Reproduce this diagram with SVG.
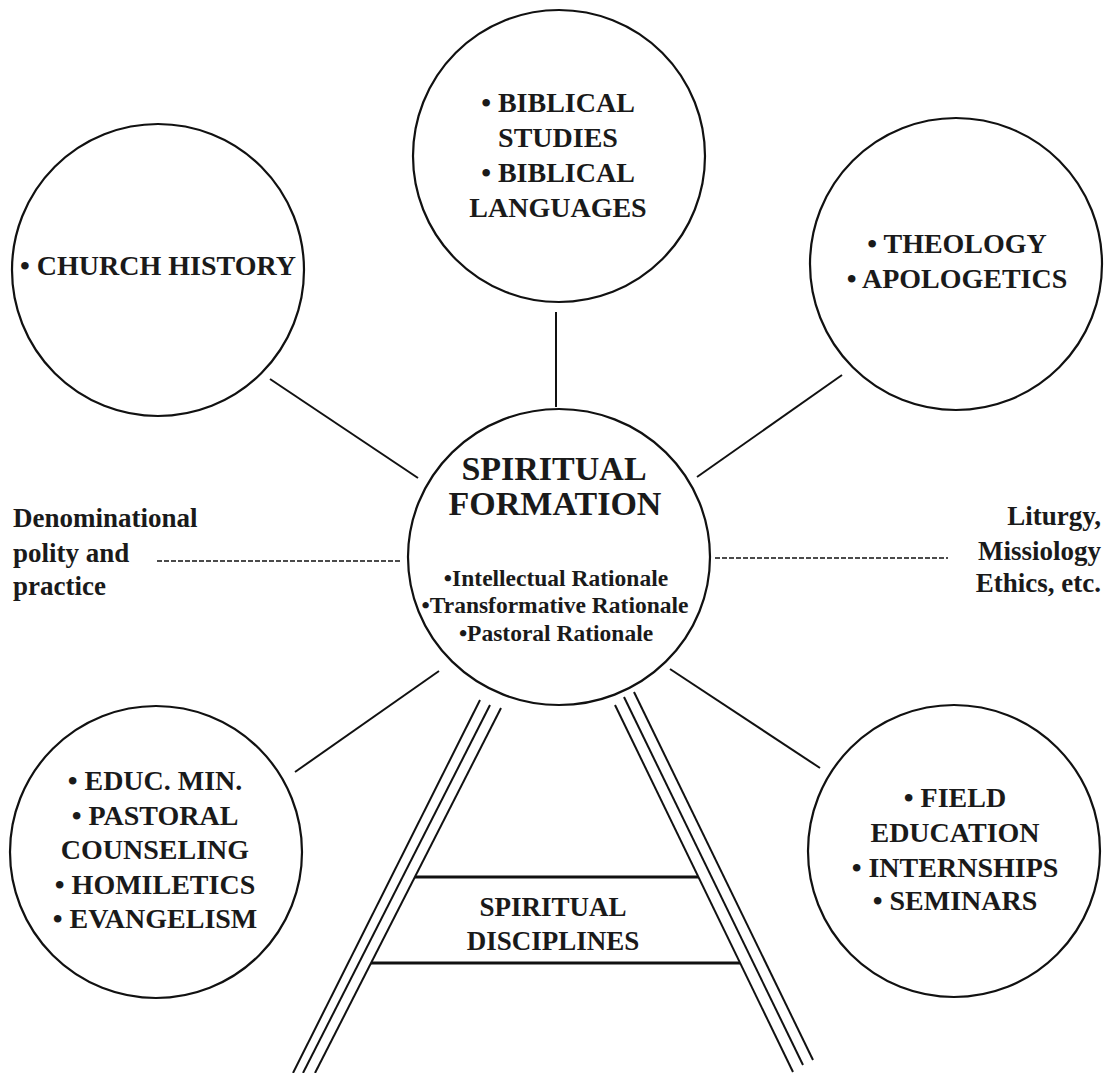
<svg xmlns="http://www.w3.org/2000/svg" width="1107" height="1073" viewBox="0 0 1107 1073">
<style>
.c{fill:none;stroke:#111;stroke-width:2.2}
.l{stroke:#111;stroke-width:2;fill:none}
.d{stroke:#111;stroke-width:1.6;stroke-dasharray:5 2;fill:none}
.b{stroke:#111;stroke-width:3;fill:none}
text{font-family:"Liberation Serif","Times New Roman",Times,serif;font-weight:bold;fill:#1a1a1a}
.t{font-size:28px;text-anchor:middle}
.s{font-size:27px}
.h{font-size:34px;text-anchor:middle}
.r{font-size:23.5px;text-anchor:middle}
</style>
<rect width="1107" height="1073" fill="#fff"/>
<g id="connectors">
<line class="l" x1="556" y1="312" x2="556" y2="407"/>
<line class="l" x1="270" y1="379" x2="418" y2="478"/>
<line class="l" x1="842" y1="375" x2="697" y2="477"/>
<line class="l" x1="295" y1="772" x2="439" y2="671"/>
<line class="l" x1="670" y1="669" x2="820" y2="768"/>
<line class="d" x1="157" y1="561" x2="400" y2="561"/>
<line class="d" x1="715" y1="558" x2="948" y2="558"/>
</g>
<g id="biblical">
<circle class="c" cx="559" cy="156" r="146"/>
<text class="t" x="558" y="112">• BIBLICAL</text>
<text class="t" x="558" y="147">STUDIES</text>
<text class="t" x="558" y="182">• BIBLICAL</text>
<text class="t" x="558" y="217">LANGUAGES</text>
</g>
<g id="church-history">
<circle class="c" cx="158" cy="270" r="146"/>
<text class="t" x="158" y="275">• CHURCH HISTORY</text>
</g>
<g id="theology">
<circle class="c" cx="956" cy="264" r="146"/>
<text class="t" x="957" y="253">• THEOLOGY</text>
<text class="t" x="957" y="288">• APOLOGETICS</text>
</g>
<g id="spiritual-formation">
<ellipse class="c" cx="559" cy="557" rx="151" ry="148"/>
<text class="h" x="554" y="480">SPIRITUAL</text>
<text class="h" x="555" y="515">FORMATION</text>
<text class="r" x="556" y="586">•Intellectual Rationale</text>
<text class="r" x="555" y="613">•Transformative Rationale</text>
<text class="r" x="556" y="641">•Pastoral Rationale</text>
</g>
<g id="practical">
<circle class="c" cx="156" cy="852" r="146"/>
<text class="t" x="155" y="790">• EDUC. MIN.</text>
<text class="t" x="155" y="825">• PASTORAL</text>
<text class="t" x="155" y="859">COUNSELING</text>
<text class="t" x="155" y="894">• HOMILETICS</text>
<text class="t" x="155" y="928">• EVANGELISM</text>
</g>
<g id="field">
<circle class="c" cx="954" cy="851" r="146"/>
<text class="t" x="955" y="807">• FIELD</text>
<text class="t" x="955" y="842">EDUCATION</text>
<text class="t" x="955" y="877">• INTERNSHIPS</text>
<text class="t" x="955" y="910">• SEMINARS</text>
</g>
<g id="denominational">
<text class="s" x="13" y="527">Denominational</text>
<text class="s" x="13" y="562">polity and</text>
<text class="s" x="13" y="595">practice</text>
</g>
<g id="liturgy">
<text class="s" x="1101" y="525" text-anchor="end">Liturgy,</text>
<text class="s" x="1101" y="560" text-anchor="end">Missiology</text>
<text class="s" x="1101" y="592" text-anchor="end">Ethics, etc.</text>
</g>
<g id="spiritual-disciplines">
<line class="l" x1="480" y1="700" x2="293" y2="1073"/>
<line class="l" x1="490" y1="705" x2="303" y2="1073"/>
<line class="l" x1="501" y1="708" x2="315" y2="1073"/>
<line class="l" x1="615" y1="705" x2="793" y2="1072"/>
<line class="l" x1="624" y1="697" x2="803" y2="1065"/>
<line class="l" x1="634" y1="692" x2="813" y2="1060"/>
<line class="b" x1="415" y1="877" x2="698" y2="877"/>
<line class="b" x1="371" y1="963" x2="740" y2="963"/>
<text class="t" x="553" y="916" style="font-size:27px">SPIRITUAL</text>
<text class="t" x="553" y="950" style="font-size:27px">DISCIPLINES</text>
</g>
</svg>
